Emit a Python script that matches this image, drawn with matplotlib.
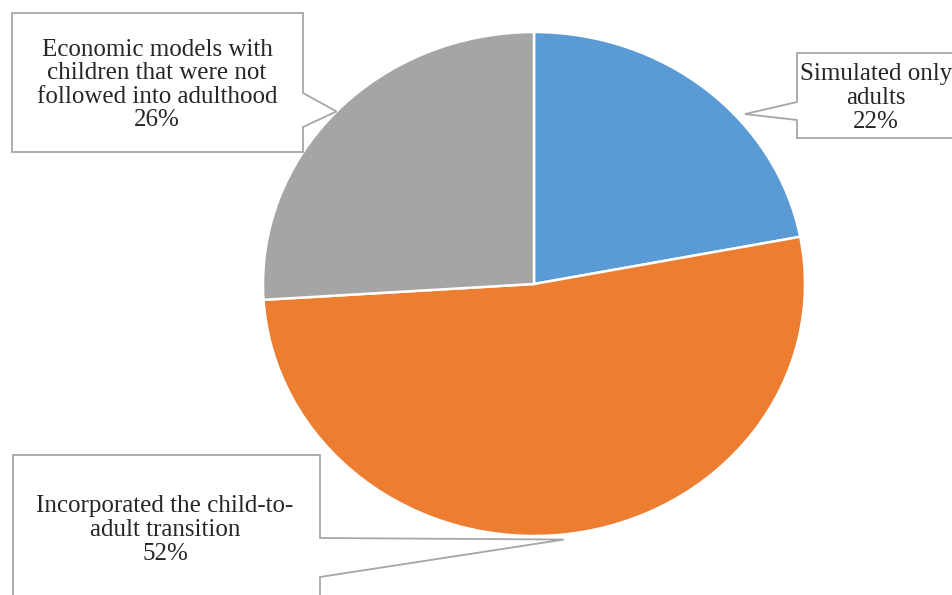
import numpy as np
import matplotlib
matplotlib.use("Agg")
import matplotlib.pyplot as plt
from matplotlib.patches import Polygon

# data
labels = ["Simulated only\nadults",
          "Incorporated the child-to-\nadult transition",
          "Economic models with\nchildren that were not\nfollowed into adulthood"]
shares = [22, 52, 26]
colors = ["#5B9BD5", "#ED7D31", "#A5A5A5"]

W, H = 952, 595
fig = plt.figure(figsize=(W / 100, H / 100), dpi=100)

# pie area in pixels: left 263, right 805, top 32, bottom 536
ax = fig.add_axes([263 / W, (H - 536) / H, 542 / W, 504 / H])
wedges, _ = ax.pie(shares, colors=colors, startangle=90, counterclock=False,
                   wedgeprops=dict(edgecolor="white", linewidth=1.8))
ax.set_aspect("auto")
ax.set_xlim(-1, 1)
ax.set_ylim(-1, 1)

# overlay in pixel coords for the callouts
ov = fig.add_axes([0, 0, 1, 1], zorder=5)
ov.set_xlim(0, W)
ov.set_ylim(H, 0)
ov.axis("off")


def tip_px(wedge, offset=0.0, r=1.0):
    ang = np.deg2rad((wedge.theta1 + wedge.theta2) / 2 + offset)
    disp = ax.transData.transform((r * np.cos(ang), r * np.sin(ang)))
    return ov.transData.inverted().transform(disp)


# box (x0, y0, x1, y1), pointer side, pointer base, tip offset, text centre
callouts = [
    dict(box=(797, 53, 968, 138), side="left", base=(102, 120), off=-9.5, r=1.03, txt=(876, 98)),
    dict(box=(13, 455, 320, 620), side="right", base=(538, 577), off=-1.0, r=1.02, txt=(165, 530)),
    dict(box=(12, 13, 303, 152), side="right", base=(93, 127), off=0.0, r=1.0, txt=(157, 85)),
]

for w, lab, val, c in zip(wedges, labels, shares, callouts):
    x0, y0, x1, y1 = c["box"]
    b0, b1 = c["base"]
    tip = tuple(tip_px(w, c["off"], c["r"]))
    if c["side"] == "right":
        pts = [(x0, y0), (x1, y0), (x1, b0), tip, (x1, b1), (x1, y1), (x0, y1)]
    else:
        pts = [(x0, y0), (x1, y0), (x1, y1), (x0, y1), (x0, b1), tip, (x0, b0)]
    ov.add_patch(Polygon(pts, closed=True, facecolor="white",
                         edgecolor="#A6A6A6", linewidth=1.3))
    ov.text(c["txt"][0], c["txt"][1], f"{lab}\n{val}%", ha="center", va="center",
            fontsize=18, family="Liberation Serif", color="#262626", linespacing=1.09)

fig.savefig("out.png", dpi=100)
